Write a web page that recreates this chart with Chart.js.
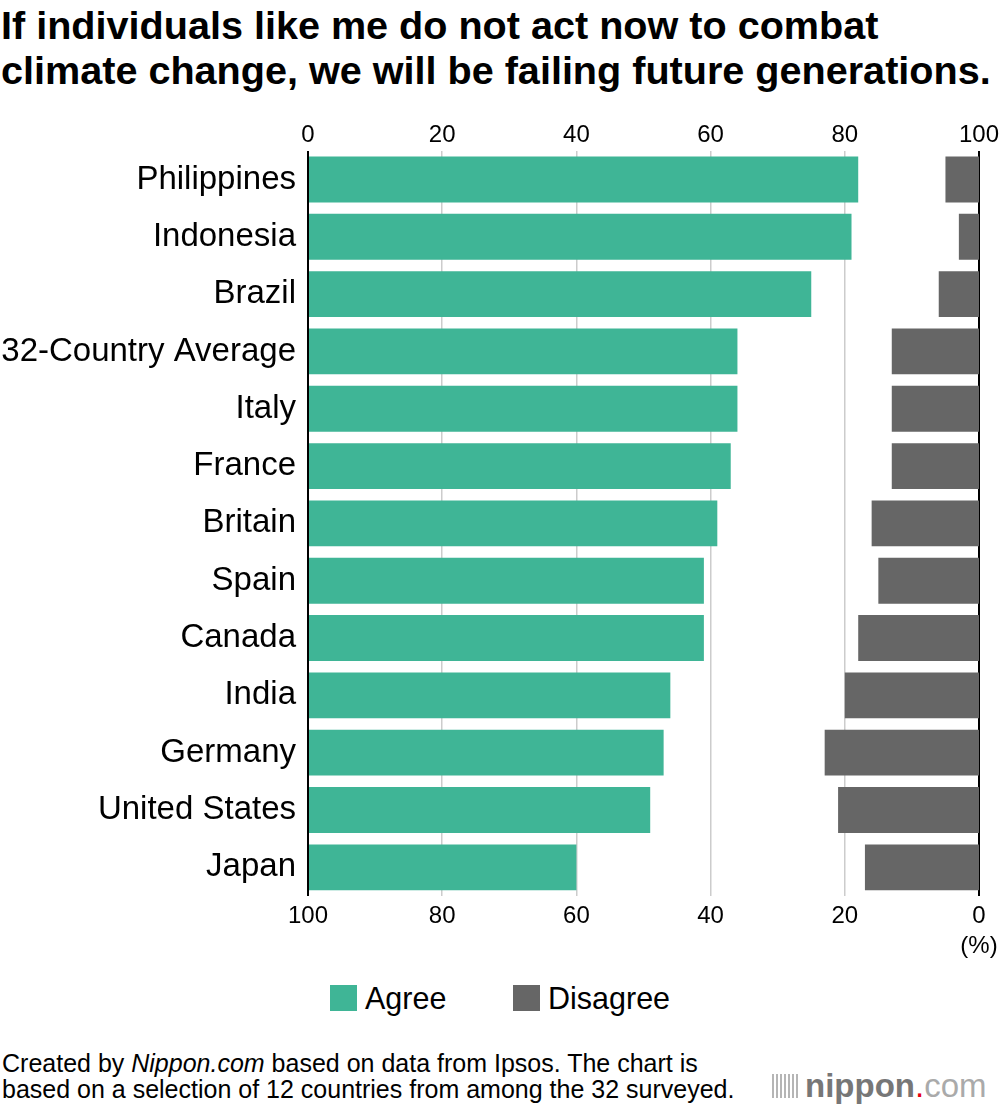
<!DOCTYPE html>
<html>
<head>
<meta charset="utf-8">
<script src="https://cdn.jsdelivr.net/npm/chart.js@4"></script>
<style>
  body { margin: 0; background: #fff; font-family: "Liberation Sans", Arial, sans-serif; }
  #wrap { position: relative; width: 1000px; height: 1110px; overflow: hidden; }
  #title { position: absolute; left: 1px; top: 3px; font-size: 39.6px; font-weight: bold; line-height: 45px; color: #000; white-space: nowrap; }
  #chartBox { position: absolute; left: 0; top: 100px; width: 1000px; height: 870px; }
  .legend { position: absolute; top: 983px; font-size: 30.5px; line-height: 30px; color: #000; display: flex; align-items: center; }
  .legend span.box { display: inline-block; width: 27px; height: 26px; margin-right: 8px; }
  #note { position: absolute; left: 2px; top: 1050px; font-size: 25px; line-height: 26px; color: #000; white-space: nowrap; }
  #logo { position: absolute; left: 772px; top: 1066px; font-size: 33px; line-height: 40px; color: #888; display: flex; align-items: center; }
  #logo .bars { display: inline-block; width: 26px; height: 24px; margin-right: 7px;
    background: repeating-linear-gradient(90deg, #b5b5b5 0 2px, #fff 2px 4px); }
</style>
</head>
<body>
<div id="wrap">
  <div id="title">If individuals like me do not act now to combat<br>climate change, we will be failing future generations.</div>
  <div id="chartBox"><canvas id="chart"></canvas></div>
  <div class="legend" style="left:330px"><span class="box" style="background:#3fb596"></span>Agree</div>
  <div class="legend" style="left:513px"><span class="box" style="background:#666666"></span>Disagree</div>
  <div id="note">Created by <i>Nippon.com</i> based on data from Ipsos. The chart is<br>based on a selection of 12 countries from among the 32 surveyed.</div>
  <div id="logo"><span class="bars"></span><b style="color:#777">nippon</b><span style="color:#e60012">.</span><span style="color:#aaa">com</span></div>
</div>
<script>
const countries = ['Philippines', 'Indonesia', 'Brazil', '32-Country Average', 'Italy', 'France',
    'Britain', 'Spain', 'Canada', 'India', 'Germany', 'United States', 'Japan'];
const agreeValues = [82, 81, 75, 64, 64, 63, 61, 59, 59, 54, 53, 51, 40];
const disagreeValues = [5, 3, 6, 13, 13, 13, 16, 15, 18, 20, 23, 21, 17];
const topTicks = [0, 20, 40, 60, 80, 100];

const GREEN = '#3fb596';
const GRAY = '#666666';

// keep the plot area edges fixed, labels may overhang
function fixSidePadding(scale) {
    scale.paddingLeft = 0;
    scale.paddingRight = 0;
}

const ctx = document.getElementById('chart').getContext('2d');
new Chart(ctx, {
    type: 'bar',
    data: {
        labels: countries,
        datasets: [
            {
                label: 'Agree',
                data: agreeValues,
                backgroundColor: GREEN,
                xAxisID: 'x',
                grouped: false,
                barPercentage: 0.8,
                categoryPercentage: 1.0
            },
            {
                label: 'Disagree',
                data: disagreeValues,
                backgroundColor: GRAY,
                xAxisID: 'x2',
                grouped: false,
                barPercentage: 0.8,
                categoryPercentage: 1.0
            }
        ]
    },
    options: {
        indexAxis: 'y',
        responsive: true,
        maintainAspectRatio: false,
        animation: false,
        layout: { padding: { top: 20, bottom: 4, left: 0, right: 21 } },
        plugins: { legend: { display: false }, tooltip: { enabled: false } },
        scales: {
            x: {
                position: 'top',
                min: 0, max: 100,
                afterBuildTicks: (scale) => { scale.ticks = topTicks.map(v => ({ value: v })); },
                afterFit: fixSidePadding,
                ticks: { color: '#000', font: { size: 24, family: 'Liberation Sans' }, padding: 1, maxRotation: 0 },
                grid: {
                    drawTicks: false,
                    color: (c) => (c.tick && (c.tick.value === 0 || c.tick.value === 100)) ? '#000' : '#cccccc',
                    lineWidth: (c) => (c.tick && (c.tick.value === 0 || c.tick.value === 100)) ? 2 : 1.5
                },
                border: { display: false }
            },
            x2: {
                position: 'bottom',
                reverse: true,
                min: 0, max: 100,
                afterBuildTicks: (scale) => { scale.ticks = topTicks.map(v => ({ value: v })); },
                afterFit: fixSidePadding,
                ticks: {
                    color: '#000', font: { size: 24, family: 'Liberation Sans', lineHeight: 1.25 }, padding: 5, maxRotation: 0,
                    callback: (v) => v === 0 ? ['0', '(%)'] : String(v)
                },
                grid: { display: false, drawTicks: false },
                border: { display: false }
            },
            y: {
                afterFit: (scale) => { scale.width = 308; },
                ticks: { color: '#000', font: { size: 33, family: 'Liberation Sans' }, padding: 12 },
                grid: { display: false, drawTicks: false },
                border: { display: false }
            }
        }
    }
});
</script>
</body>
</html>
